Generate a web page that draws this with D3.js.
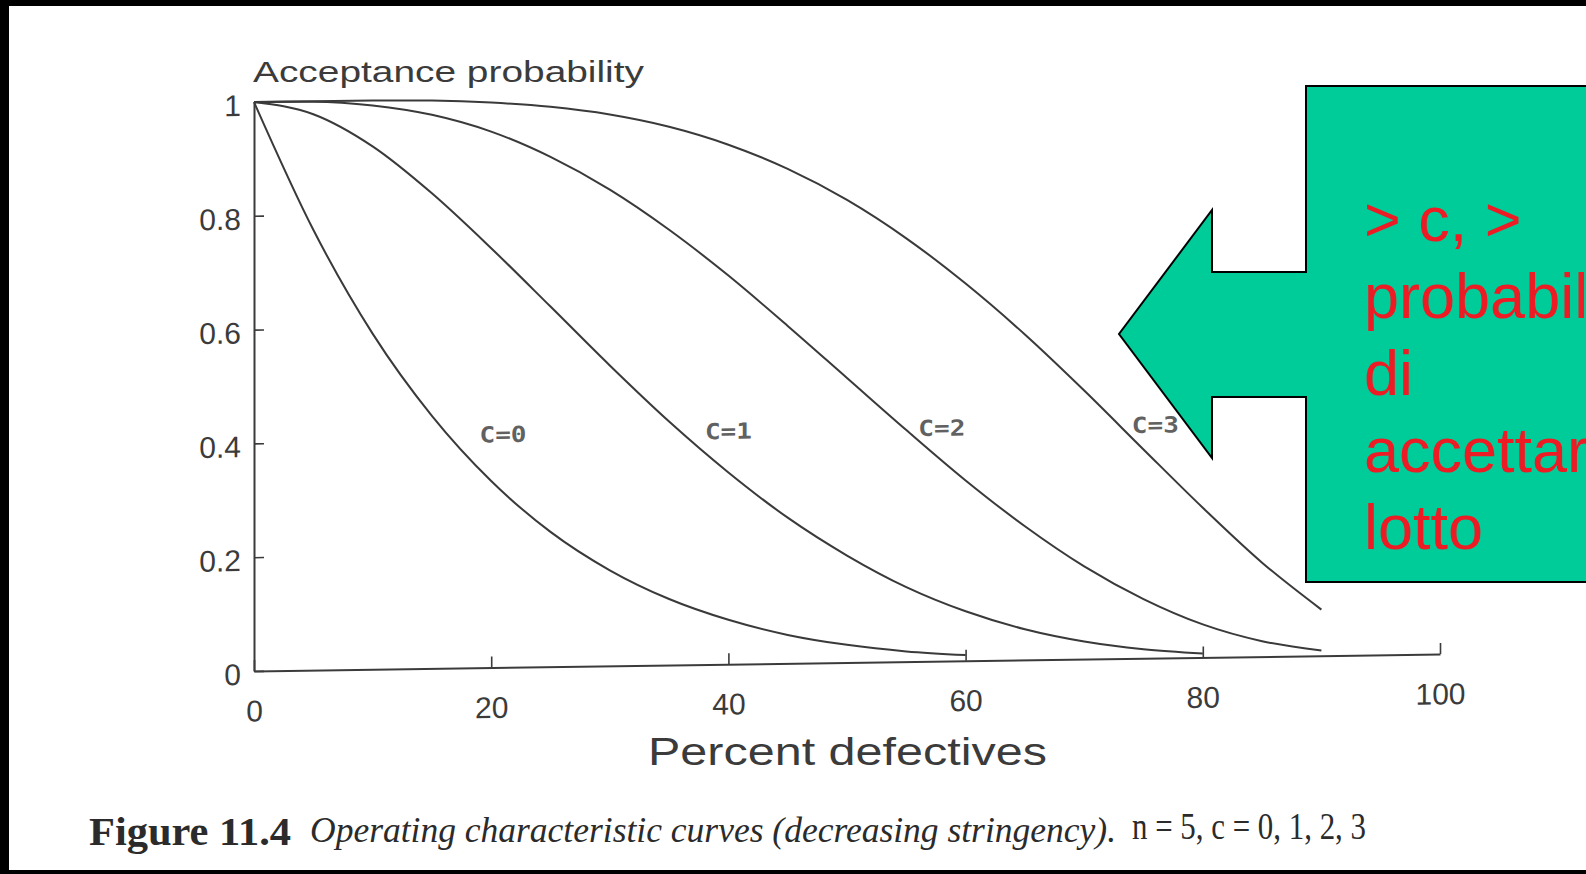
<!DOCTYPE html>
<html>
<head>
<meta charset="utf-8">
<script src="https://cdn.jsdelivr.net/npm/d3@7"></script>
<style>
  html, body { margin: 0; padding: 0; background: #fff; }
  svg { display: block; }
</style>
</head>
<body>
<svg id="chart" width="1586" height="874"></svg>
<script>
// percent defectives at which the curves were read
var defectPct = [0, 5, 10, 15, 20, 25, 30, 35, 40, 45, 50, 55, 60, 65, 70, 75, 80, 85, 90];

// acceptance probability, n = 5, one array per acceptance number c
var pAcceptC0 = [1, 0.774, 0.59, 0.444, 0.328, 0.237, 0.168, 0.116, 0.078, 0.05, 0.031, 0.018, 0.01];
var pAcceptC1 = [1, 0.977, 0.919, 0.835, 0.737, 0.633, 0.528, 0.428, 0.337, 0.256, 0.188, 0.131, 0.087, 0.054, 0.031, 0.016, 0.007];
var pAcceptC2 = [1, 0.999, 0.991, 0.973, 0.942, 0.896, 0.837, 0.765, 0.683, 0.593, 0.5, 0.407, 0.317, 0.235, 0.163, 0.104, 0.058, 0.027, 0.009];
var pAcceptC3 = [1, 1, 0.9995, 0.998, 0.993, 0.984, 0.969, 0.946, 0.913, 0.869, 0.813, 0.744, 0.663, 0.572, 0.472, 0.367, 0.263, 0.165, 0.081];

var curveNames = ["C=0", "C=1", "C=2", "C=3"];
var labelPct = [21, 40, 58, 76];
var labelP = [0.41, 0.41, 0.41, 0.41];

var xTicks = [0, 20, 40, 60, 80, 100];
var yTicks = [0, 0.2, 0.4, 0.6, 0.8, 1];

var calloutLines = ["> c, >", "probabilità", "di", "accettare il", "lotto"];

var W = 1586, H = 874;
var ink = "#3b3b3b";

var svg = d3.select("#chart");
svg.append("rect").attr("width", W).attr("height", H).attr("fill", "#fff");

// black frame of the scan (top, left, bottom)
svg.append("rect").attr("x", 0).attr("y", 0).attr("width", W).attr("height", 6).attr("fill", "#000");
svg.append("rect").attr("x", 0).attr("y", 0).attr("width", 9).attr("height", H).attr("fill", "#000");
svg.append("rect").attr("x", 0).attr("y", 870).attr("width", W).attr("height", 4).attr("fill", "#000");

// the scanned figure is slightly tilted: x axis drops 17px over its length
var plotW = 1186;
var tilt = Math.atan(-17 / plotW) * 180 / Math.PI;

var g = svg.append("g")
    .attr("transform", "translate(254,0) skewY(" + tilt + ")");

var x = d3.scaleLinear().domain([0, 100]).range([0, plotW]);
var y = d3.scaleLinear().domain([0, 1]).range([671, 102]);

// y axis, ticks pointing inwards
var yAxis = g.append("g")
    .call(d3.axisLeft(y)
        .tickValues(yTicks)
        .tickSizeInner(-10)
        .tickSizeOuter(0)
        .tickPadding(13)
        .tickFormat(d3.format("~g")));

// x axis
var xAxis = g.append("g")
    .attr("transform", "translate(0," + y(0) + ")")
    .call(d3.axisBottom(x)
        .tickValues(xTicks)
        .tickSizeInner(-11)
        .tickSizeOuter(0)
        .tickPadding(29));

[yAxis, xAxis].forEach(function (ax) {
    ax.attr("font-family", "'Liberation Sans', Arial, sans-serif").attr("font-size", 30);
    ax.select(".domain").attr("stroke", ink).attr("stroke-width", 2);
    ax.selectAll(".tick line").attr("stroke", ink).attr("stroke-width", 1.6);
    ax.selectAll(".tick text").attr("fill", ink);
});
yAxis.selectAll(".tick text").attr("dy", "0.44em");

// OC curves
var series = [pAcceptC0, pAcceptC1, pAcceptC2, pAcceptC3].map(function (vals) {
    return vals.map(function (p, i) { return {pct: defectPct[i], p: p}; });
});

var line = d3.line()
    .x(function (d) { return x(d.pct); })
    .y(function (d) { return y(d.p); })
    .curve(d3.curveMonotoneX);

g.selectAll("path.oc")
    .data(series)
    .enter()
    .append("path")
    .attr("class", "oc")
    .attr("d", line)
    .attr("fill", "none")
    .attr("stroke", "#3a3a3a")
    .attr("stroke-width", 2);

g.selectAll("text.clabel")
    .data(curveNames)
    .enter()
    .append("text")
    .attr("class", "clabel")
    .attr("x", function (d, i) { return x(labelPct[i]); })
    .attr("y", function (d, i) { return y(labelP[i]); })
    .attr("dy", "0.36em")
    .attr("text-anchor", "middle")
    .attr("font-family", "'DejaVu Sans Mono', monospace")
    .attr("font-weight", "bold")
    .attr("font-size", 22)
    .attr("textLength", 47)
    .attr("lengthAdjust", "spacingAndGlyphs")
    .attr("fill", "#616161")
    .text(function (d) { return d; });

// axis titles
svg.append("text")
    .attr("x", 253).attr("y", 82)
    .attr("font-family", "'Liberation Sans', Arial, sans-serif")
    .attr("font-size", 29)
    .attr("textLength", 391)
    .attr("lengthAdjust", "spacingAndGlyphs")
    .attr("fill", ink)
    .text("Acceptance probability");

svg.append("text")
    .attr("x", 648).attr("y", 765)
    .attr("font-family", "'Liberation Sans', Arial, sans-serif")
    .attr("font-size", 39)
    .attr("textLength", 399)
    .attr("lengthAdjust", "spacingAndGlyphs")
    .attr("fill", ink)
    .text("Percent defectives");

// caption: bold label, italic title, plain parameters on one line
var serif = "'Liberation Serif', 'Times New Roman', serif";
var caption = svg.append("text")
    .attr("font-family", serif)
    .attr("fill", "#2b2b2b");
caption.append("tspan")
    .attr("x", 89).attr("y", 845)
    .attr("font-weight", "bold").attr("font-size", 40)
    .attr("textLength", 202).attr("lengthAdjust", "spacingAndGlyphs")
    .text("Figure 11.4");
caption.append("tspan")
    .attr("x", 310).attr("y", 842)
    .attr("font-style", "italic").attr("font-size", 36)
    .attr("textLength", 806).attr("lengthAdjust", "spacingAndGlyphs")
    .text("Operating characteristic curves (decreasing stringency).");
caption.append("tspan")
    .attr("x", 1132).attr("y", 839)
    .attr("font-size", 37)
    .attr("textLength", 234).attr("lengthAdjust", "spacingAndGlyphs")
    .text("n = 5, c = 0, 1, 2, 3");

// left arrow callout
var box = {left: 1306, right: 1640, top: 86, bottom: 582};
var arrow = {shaftTop: 272, shaftBottom: 397, neck: 1212, headTop: 210, headBottom: 458, tipX: 1119, tipY: 334};
var callout = d3.path();
callout.moveTo(box.left, box.top);
callout.lineTo(box.right, box.top);
callout.lineTo(box.right, box.bottom);
callout.lineTo(box.left, box.bottom);
callout.lineTo(box.left, arrow.shaftBottom);
callout.lineTo(arrow.neck, arrow.shaftBottom);
callout.lineTo(arrow.neck, arrow.headBottom);
callout.lineTo(arrow.tipX, arrow.tipY);
callout.lineTo(arrow.neck, arrow.headTop);
callout.lineTo(arrow.neck, arrow.shaftTop);
callout.lineTo(box.left, arrow.shaftTop);
callout.closePath();

svg.append("path")
    .attr("d", callout.toString())
    .attr("fill", "#00cc99")
    .attr("stroke", "#000")
    .attr("stroke-width", 2);

// the callout text runs past the right edge, as in the slide
svg.selectAll("text.callout")
    .data(calloutLines)
    .enter()
    .append("text")
    .attr("class", "callout")
    .attr("x", 1364)
    .attr("y", function (d, i) { return 241 + i * 77; })
    .attr("font-family", "'Liberation Sans', Arial, sans-serif")
    .attr("font-size", 63)
    .attr("fill", "#ed1c24")
    .text(function (d) { return d; });
</script>
</body>
</html>
